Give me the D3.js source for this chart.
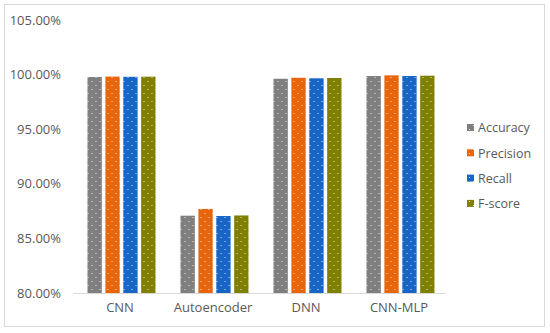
<!DOCTYPE html>
<html>
<head>
<meta charset="utf-8">
<script src="https://cdn.jsdelivr.net/npm/d3@7"></script>
<style>
  body { margin: 0; background: #fff; }
  #chart text { font-family: "Open Sans", "Noto Sans", sans-serif; fill: #595959; }
</style>
</head>
<body>
<div id="chart"></div>
<script>
// chart data
const categories = ['CNN', 'Autoencoder', 'DNN', 'CNN-MLP']
const seriesNames = ['Accuracy', 'Precision', 'Recall', 'F-score']
const accuracy = [99.78, 87.08, 99.62, 99.87]
const precision = [99.82, 87.70, 99.71, 99.93]
const recall = [99.80, 87.05, 99.66, 99.87]
const fscore = [99.81, 87.10, 99.69, 99.90]
const yTicks = [80, 85, 90, 95, 100, 105]
const colors = ['#7f7f7f', '#e8650c', '#1766c6', '#7f7f00']

const series = [accuracy, precision, recall, fscore]

const width = 550, height = 333
const svg = d3.select('#chart').append('svg')
  .attr('width', width).attr('height', height)

// chart frame
svg.append('rect')
  .attr('x', 4.5).attr('y', 4.5)
  .attr('width', 540).attr('height', 322)
  .attr('fill', '#fff').attr('stroke', '#d9d9d9')

// dotted patterns like the excel fill
const defs = svg.append('defs')
colors.forEach((c, i) => {
  const p = defs.append('pattern')
    .attr('id', 'pat' + i)
    .attr('patternUnits', 'userSpaceOnUse')
    .attr('width', 8).attr('height', 8)
  p.append('rect').attr('width', 8).attr('height', 8).attr('fill', c)
  p.append('rect').attr('x', 2).attr('y', 1).attr('width', 1).attr('height', 1).attr('fill', '#fff').attr('opacity', 0.8)
  p.append('rect').attr('x', 6).attr('y', 5).attr('width', 1).attr('height', 1).attr('fill', '#fff').attr('opacity', 0.8)
})

const x0 = d3.scaleBand().domain(categories).range([73.5, 445.5]).paddingInner(0).paddingOuter(0)
const x1 = d3.scaleBand().domain(seriesNames).range([14, 82]).paddingInner(0.2)
const y = d3.scaleLinear().domain([80, 105]).range([293, 20])

// y labels
const yAxis = d3.axisLeft(y).tickValues(yTicks).tickSize(0).tickPadding(0)
  .tickFormat(d => d.toFixed(2) + '%')
const gy = svg.append('g').attr('transform', 'translate(61,0)').call(yAxis)
gy.select('.domain').remove()
gy.selectAll('text').style('font-size', '13px')

// bars
categories.forEach((cat, ci) => {
  const g = svg.append('g').attr('transform', `translate(${x0(cat)},0)`)
  series.forEach((vals, si) => {
    g.append('rect')
      .attr('x', x1(seriesNames[si]))
      .attr('y', y(vals[ci]))
      .attr('width', x1.bandwidth())
      .attr('height', y(80) - y(vals[ci]))
      .attr('fill', `url(#pat${si})`)
  })
})

// x axis
const xAxis = d3.axisBottom(x0).tickSize(0).tickPadding(10)
const gx = svg.append('g').attr('transform', 'translate(0,293)').call(xAxis)
gx.select('.domain').attr('stroke', '#d9d9d9').attr('d', 'M73.5,0.5H445.5')
gx.selectAll('text').style('font-size', '13px')

// legend
const legend = svg.append('g').attr('transform', 'translate(467,0)')
seriesNames.forEach((name, i) => {
  const ly = 128 + i * 25.3
  legend.append('rect')
    .attr('x', 0).attr('y', ly - 4).attr('width', 7).attr('height', 7)
    .attr('fill', `url(#pat${i})`)
  legend.append('text')
    .attr('x', 11).attr('y', ly).attr('dy', '0.35em')
    .style('font-size', '12.5px')
    .text(name)
})
</script>
</body>
</html>
